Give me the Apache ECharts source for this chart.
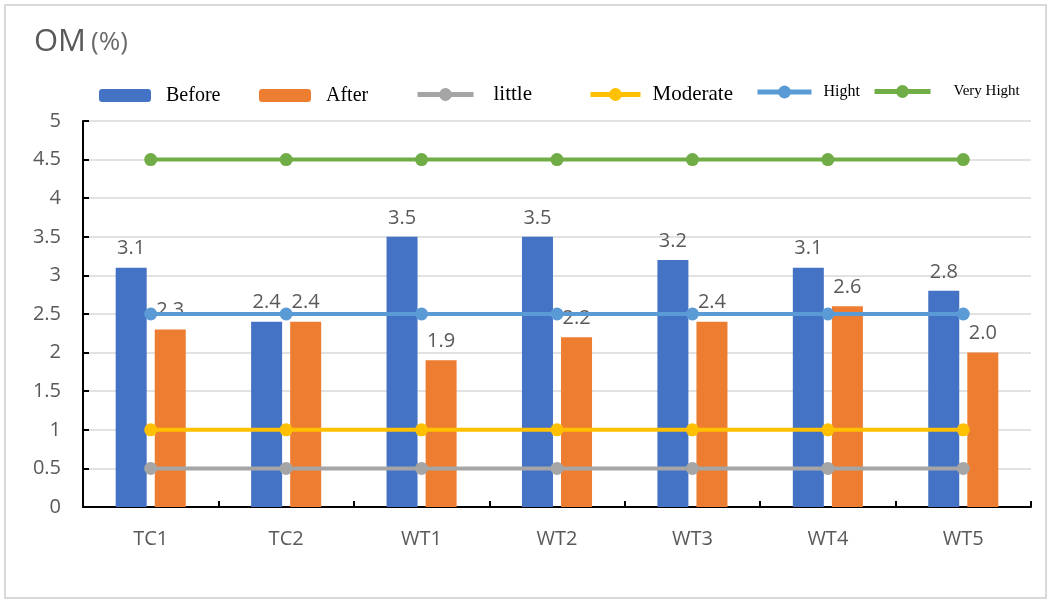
<!DOCTYPE html>
<html>
<head>
<meta charset="utf-8">
<script src="https://cdn.jsdelivr.net/npm/echarts@6/dist/echarts.min.js"></script>
<style>
  html, body { margin: 0; padding: 0; background: #fff; }
  #chart { width: 1056px; height: 603px; }
</style>
</head>
<body>
<div id="chart"></div>
<script>
// Sites and organic matter content before / after treatment
const sites = ['TC1', 'TC2', 'WT1', 'WT2', 'WT3', 'WT4', 'WT5'];
const before = [3.1, 2.4, 3.5, 3.5, 3.2, 3.1, 2.8];
const after = [2.3, 2.4, 1.9, 2.2, 2.4, 2.6, 2.0];

// Classification thresholds (constant reference levels)
const little = [0.5, 0.5, 0.5, 0.5, 0.5, 0.5, 0.5];
const moderate = [1, 1, 1, 1, 1, 1, 1];
const hight = [2.5, 2.5, 2.5, 2.5, 2.5, 2.5, 2.5];
const veryHight = [4.5, 4.5, 4.5, 4.5, 4.5, 4.5, 4.5];

const yMin = 0, yMax = 5, yStep = 0.5;

const textGray = '#595959';
const sansFont = '"Open Sans", "Noto Sans", sans-serif';
const serifFont = '"Liberation Serif", "DejaVu Serif", serif';

const chart = echarts.init(document.getElementById('chart'));

function barLabel() {
  return {
    show: true,
    position: 'top',
    distance: 9,
    color: textGray,
    fontFamily: sansFont,
    fontSize: 20,
    formatter: p => Number(p.value).toFixed(1)
  };
}

function levelLine(name, data, color) {
  return {
    name: name,
    type: 'line',
    data: data,
    z: 5,
    symbol: 'circle',
    symbolSize: 13,
    lineStyle: { color: color, width: 4 },
    itemStyle: { color: color },
    emphasis: { disabled: true }
  };
}

function legendItem(name, left, width, height, gap, size) {
  return {
    data: [name],
    left: left,
    top: 92 - height / 2,
    padding: 0,
    itemWidth: width,
    itemHeight: height,
    selectedMode: false,
    lineStyle: { width: 5 },
    textStyle: {
      fontFamily: serifFont,
      fontSize: size,
      color: '#000',
      padding: [0, 0, 0, gap - 5]
    }
  };
}

chart.setOption({
  animation: false,
  backgroundColor: '#fff',
  title: {
    text: '{a|OM} {b|(%)}',
    left: 34,
    top: 27,
    padding: 0,
    textStyle: {
      rich: {
        a: { fontFamily: sansFont, fontSize: 31, fontWeight: 'normal', color: textGray },
        b: { fontFamily: sansFont, fontSize: 26, fontWeight: 'normal', color: '#6b6b6b' }
      }
    }
  },
  graphic: [{
    type: 'rect',
    shape: { x: 5, y: 5, width: 1041, height: 593 },
    style: { fill: 'none', stroke: '#d9d9d9', lineWidth: 2 },
    silent: true
  }],
  legend: [
    legendItem('Before', 99, 52, 13, 15, 20),
    legendItem('After', 259, 52, 13, 15, 20),
    legendItem('little', 415, 56, 16, 20, 21),
    legendItem('Moderate', 588, 50, 16, 12, 21),
    legendItem('Hight', 755, 54, 16, 12, 16),
    legendItem('Very Hight', 872, 56, 16, 23, 15)
  ],
  grid: { left: 83, right: 25, top: 121, bottom: 96 },
  xAxis: {
    type: 'category',
    data: sites,
    boundaryGap: true,
    axisLine: { show: true, lineStyle: { color: '#000', width: 2 } },
    axisTick: { show: true, inside: true, length: 6, lineStyle: { color: '#000', width: 2 } },
    axisLabel: { color: textGray, fontFamily: sansFont, fontSize: 20, margin: 22 },
    splitLine: { show: false }
  },
  yAxis: {
    type: 'value',
    min: yMin,
    max: yMax,
    interval: yStep,
    axisLine: { show: true, lineStyle: { color: '#000', width: 2 } },
    axisTick: { show: true, inside: true, length: 6, lineStyle: { color: '#000', width: 2 } },
    axisLabel: { color: textGray, fontFamily: sansFont, fontSize: 20, margin: 22 },
    splitLine: { show: true, lineStyle: { color: '#d9d9d9', width: 1.5 } }
  },
  series: [
    {
      name: 'Before',
      type: 'bar',
      data: before,
      barWidth: 31,
      barGap: '26%',
      itemStyle: { color: '#4472C4' },
      label: barLabel()
    },
    {
      name: 'After',
      type: 'bar',
      data: after,
      barWidth: 31,
      barGap: '26%',
      itemStyle: { color: '#ED7D31' },
      label: barLabel()
    },
    levelLine('little', little, '#A5A5A5'),
    levelLine('Moderate', moderate, '#FFC000'),
    levelLine('Hight', hight, '#5B9BD5'),
    levelLine('Very Hight', veryHight, '#70AD47')
  ]
});
</script>
</body>
</html>
